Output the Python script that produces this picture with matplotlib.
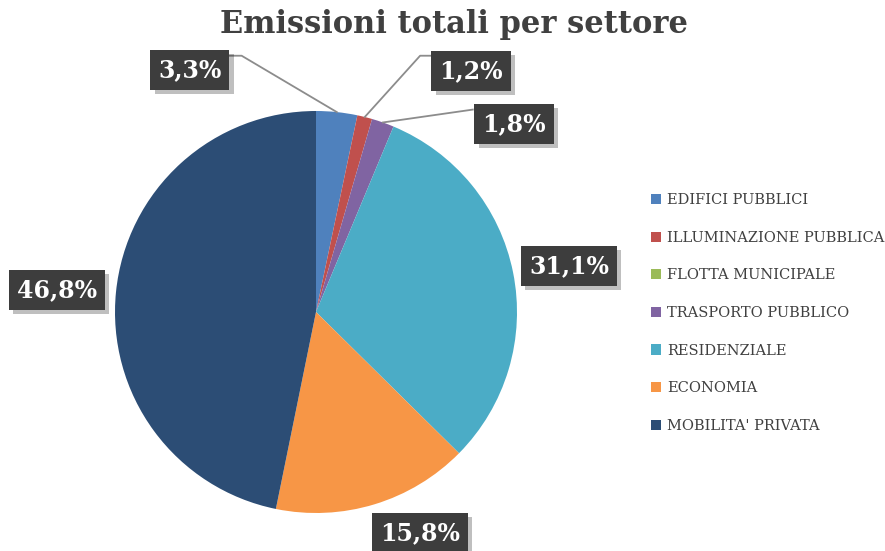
import numpy as np
import matplotlib.pyplot as plt
import matplotlib.patheffects as pe
from matplotlib.patches import Patch

settori = ["EDIFICI PUBBLICI", "ILLUMINAZIONE PUBBLICA", "FLOTTA MUNICIPALE",
           "TRASPORTO PUBBLICO", "RESIDENZIALE", "ECONOMIA", "MOBILITA' PRIVATA"]
quote = [3.3, 1.2, 0.0, 1.8, 31.1, 15.8, 46.8]
etichette = ["3,3%", "1,2%", "", "1,8%", "31,1%", "15,8%", "46,8%"]
colori = ["#4F81BD", "#C0504D", "#9BBB59", "#8064A2", "#4BACC6", "#F79646", "#2C4D75"]

W, H = 885, 551
fig = plt.figure(figsize=(W / 100, H / 100), dpi=100)
fig.patch.set_facecolor("white")

# cerchio: centro (316,312) px, raggio 201 px
cx, cy, r = 316, 312, 201
ax = fig.add_axes([(cx - r) / W, (H - cy - r) / H, 2 * r / W, 2 * r / H])
wedges, _ = ax.pie(quote, colors=colori, startangle=90, counterclock=False,
                   radius=1, wedgeprops=dict(linewidth=0))
ax.set_xlim(-1, 1)
ax.set_ylim(-1, 1)
ax.set_aspect("equal")
ax.axis("off")

# posizione delle etichette (in unita' del raggio) e gomito della linea guida
pos = {0: (-0.627, 1.204), 1: (0.771, 1.199), 3: (0.985, 0.935),
       4: (1.259, 0.229), 5: (0.517, -1.098), 6: (-1.289, 0.109)}
gomiti = {0: [(-0.43, 1.275), (-0.37, 1.275)],
          1: [(0.578, 1.275), (0.518, 1.275)],
          3: [(0.78, 1.007)]}

for i, w in enumerate(wedges):
    if etichette[i] == "":
        continue
    x, y = pos[i]
    if i in gomiti:
        ang = np.deg2rad((w.theta1 + w.theta2) / 2)
        pts = gomiti[i] + [(np.cos(ang), np.sin(ang))]
        ax.plot([p[0] for p in pts], [p[1] for p in pts], color="#8c8c8c",
                lw=1.3, clip_on=False, zorder=1)
    t = ax.text(x, y, etichette[i], ha="center", va="center", color="white",
                fontsize=17, fontweight="bold", family="DejaVu Serif",
                bbox=dict(boxstyle="square,pad=0.33", fc="#3d3d3d", ec="none"),
                zorder=5)
    t.get_bbox_patch().set_path_effects(
        [pe.SimplePatchShadow(offset=(3, -3), shadow_rgbFace="#000000", alpha=0.25),
         pe.Normal()])

fig.text(454 / W, 1 - 25 / H, "Emissioni totali per settore", ha="center",
         va="center", fontsize=22, fontweight="bold", family="DejaVu Serif",
         color="#404040")

handles = [Patch(facecolor=c, edgecolor="none") for c in colori]
leg = fig.legend(handles, settori, loc="upper left",
                 bbox_to_anchor=(638 / W, 1 - 180 / H), frameon=False,
                 handlelength=0.7, handleheight=0.7, handletextpad=0.4,
                 labelspacing=1.62, prop=dict(family="DejaVu Serif", size=10.5))
for tx in leg.get_texts():
    tx.set_color("#404040")

fig.savefig("out.png", dpi=100)
